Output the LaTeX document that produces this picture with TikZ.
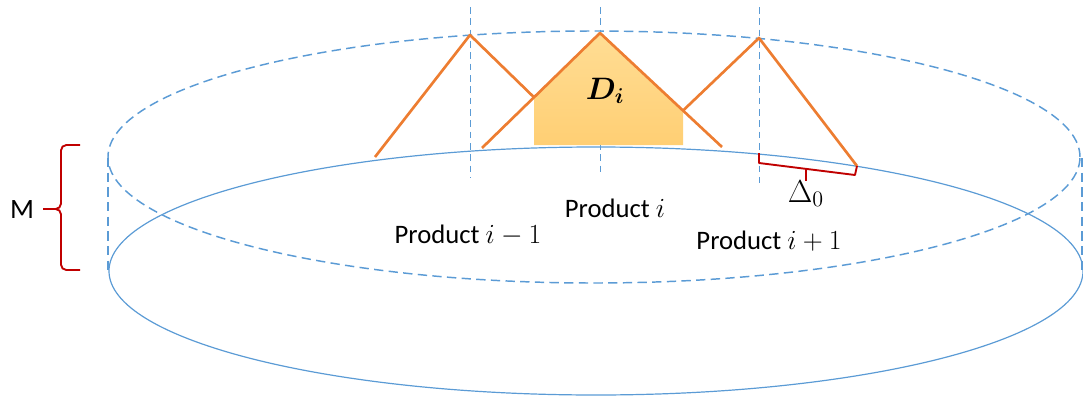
\documentclass[tikz,border=0pt]{standalone}
\usepackage{amsmath}
\usepackage{fontspec}
\setmainfont{Carlito}
\usepackage{bm}
\usepackage{graphicx}
\definecolor{eblue}{RGB}{91,155,213}
\definecolor{eorange}{RGB}{237,125,49}
\definecolor{ered}{RGB}{192,0,0}
\definecolor{fillA}{RGB}{255,221,148}
\definecolor{fillB}{RGB}{255,207,116}
\tikzset{
  rimdash/.style={eblue, line width=1.1pt, dash pattern=on 7pt off 4pt},
  rimsolid/.style={eblue, line width=0.9pt},
  guide/.style={eblue, line width=0.6pt, dash pattern=on 5pt off 3.5pt},
  tri/.style={eorange, line width=2pt, line join=round},
  bracelin/.style={ered, line width=1.4pt, rounded corners=4pt},
  lbl/.style={inner sep=0pt, font=\fontsize{20}{24}\selectfont, anchor=base},
}
\begin{document}
\begin{tikzpicture}[x=0.75pt,y=-0.75pt]
\useasboundingbox (0,0) rectangle (1083,400);
% ellipses
\draw[rimdash] (594,157) ellipse [x radius=364.5pt, y radius=94.5pt];
\draw[rimsolid] (596,271) ellipse [x radius=365.25pt, y radius=93pt];
% side dashed lines
\coordinate (lt) at (108,158); \coordinate (lb) at (108,271);
\coordinate (rt) at (1082,158); \coordinate (rb) at (1082,271);
\draw[rimdash] (lt) -- (lb);
\draw[rimdash] (rt) -- (rb);
% guides
\coordinate (g1t) at (470,7); \coordinate (g1b) at (470,178);
\coordinate (g2t) at (600,7); \coordinate (g2b) at (600,174);
\coordinate (g3t) at (759,7); \coordinate (g3b) at (759,183);
\draw[guide] (g1t) -- (g1b);
\draw[guide] (g2t) -- (g2b);
\draw[guide] (g3t) -- (g3b);
% triangles coordinates
\coordinate (aL) at (375,157); \coordinate (aP) at (470,35);
\coordinate (bL) at (482,148); \coordinate (bP) at (600,33); \coordinate (bR) at (722,147);
\coordinate (J1) at (534,97.3); \coordinate (J2) at (683,110.6);
\coordinate (cP) at (759,38); \coordinate (cR) at (857,166);
\coordinate (f1) at (534,145); \coordinate (f2) at (683,145);
% fill
\shade[top color=fillA, bottom color=fillB] (f1) -- (J1) -- (bP) -- (J2) -- (f2) -- cycle;
% orange lines
\draw[tri] (aL) -- (aP) -- (J1);
\draw[tri] (bL) -- (bP) -- (bR);
\draw[tri] (J2) -- (cP) -- (cR);
% delta bracket
\coordinate (d1) at (759,153); \coordinate (d2) at (759,163);
\coordinate (d3) at (855,175); \coordinate (d4) at (857,166);
\coordinate (dm) at (806,168.9); \coordinate (dt) at (806,181);
\draw[ered, line width=1.4pt, line join=round] (d1) -- (d2) -- (d3) -- (d4);
\draw[ered, line width=1.4pt] (dm) -- (dt);
% M brace
\coordinate (m1) at (80,145); \coordinate (m2) at (61,145);
\coordinate (m3) at (61,209); \coordinate (m4) at (43,209);
\coordinate (m5) at (61,270); \coordinate (m6) at (80,270);
\draw[bracelin] (m1) -- (m2) -- (m3) -- (m4);
\draw[bracelin] (m6) -- (m5) -- (m3) -- (m4);
% labels
\node[lbl, font=\fontsize{21}{25}\selectfont] (lm) at (22,218) {M};
\node[lbl] (lpi) at (615,217) {Product $i$};
\node[lbl] (lpim) at (468,243) {Product $i-1$};
\node[lbl] (lpip) at (769,249) {Product $i+1$};
\node[lbl] (ld) at (605,99) {\scalebox{1.12}{$\bm{D_i}$}};
\node[lbl] (ldelta) at (806,202) {\scalebox{1.15}{$\Delta_0$}};
\end{tikzpicture}
\end{document}
